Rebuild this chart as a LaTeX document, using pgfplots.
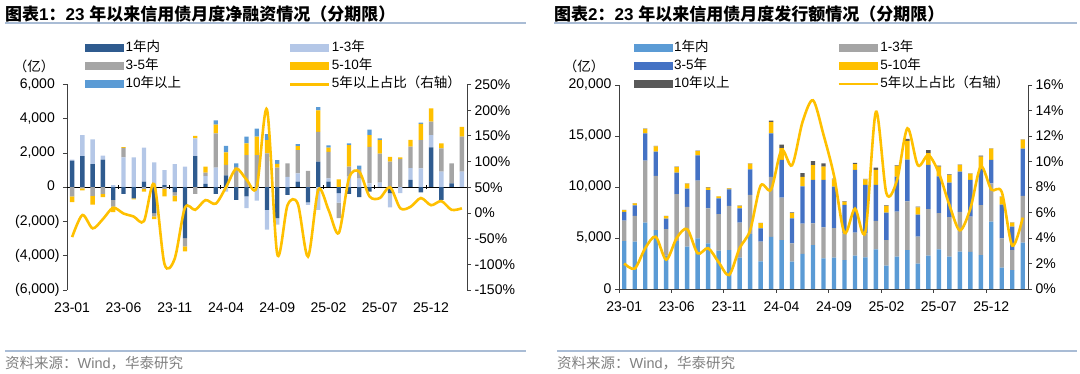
\documentclass[border=0pt]{standalone}
\usepackage{fontspec}
\setmainfont{Liberation Sans}
\newfontfamily\cjk{Noto Sans CJK SC}
\usepackage{pgfplots}
\usepackage{pgfplotstable}
\pgfplotsset{compat=1.18}
\newcommand\C[1]{{\cjk #1}}

\definecolor{lc1}{HTML}{2F5B8F}
\definecolor{lc2}{HTML}{B4C7E7}
\definecolor{lc3}{HTML}{A5A5A5}
\definecolor{gold}{HTML}{FFC000}
\definecolor{lc5}{HTML}{5B9BD5}
\definecolor{rc1}{HTML}{5B9BD5}
\definecolor{rc2}{HTML}{A5A5A5}
\definecolor{rc3}{HTML}{4472C4}
\definecolor{rc5}{HTML}{595959}
\definecolor{axgrey}{HTML}{404040}
\definecolor{rulec}{HTML}{A9BCD5}
\definecolor{srcgrey}{HTML}{808080}

\pgfplotstableread{
m a b c d e r
0 1550 70 -540 -330 0 -47
1 1820 1220 -60 -130 0 -4
2 1350 1450 -500 -520 0 -30
3 1620 230 -390 -190 0 -12
4 -740 130 -390 -330 0 10
5 -390 1740 560 40 0 -1
6 -650 1740 0 -60 0 -7
7 330 1980 -100 -150 0 -16
8 -1510 1450 -190 -160 0 56
9 130 870 -100 -430 0 -99
10 -290 1350 -200 -330 0 -89
11 -2970 1200 -480 -290 0 10
12 1820 1030 -390 150 0 6
13 200 450 200 350 0 25
14 -390 1140 2000 520 250 18
15 700 -250 600 730 390 50
16 -740 0 1190 0 200 86
17 -540 -680 1880 680 390 65
18 0 -780 1880 1070 480 50
19 -1320 -1160 1980 770 350 201
20 -1800 -390 1140 220 230 -80
21 -450 600 800 0 0 15
22 330 480 1360 230 120 18
23 -890 -140 950 0 0 -85
24 1490 -1320 1740 1260 190 45
25 330 190 1550 250 120 6
26 -350 -550 -900 460 0 -39
27 -390 620 580 1260 100 68
28 -580 500 560 0 200 80
29 -250 230 2130 680 330 32
30 0 270 1700 780 100 29
31 -350 -820 1490 290 0 50
32 0 -350 1650 100 0 9
33 430 680 1260 390 0 12
34 -300 1100 1650 950 80 29
35 2330 720 780 780 0 15
36 -740 910 1360 290 0 23
37 230 0 1160 0 0 6
38 0 910 2040 580 0 9
}\leftdata

\pgfplotstableread{
m a b c d e r
0 4700 2000 850 180 30 2.0
1 4640 2520 1040 200 30 1.6
2 6500 6080 2680 430 40 3.2
3 5780 5300 2380 520 40 4.1
4 3270 2610 1020 250 30 2.3
5 4700 4610 2090 550 40 4.0
6 4150 3890 1800 490 30 4.7
7 4970 5650 2480 420 40 2.8
8 4480 3420 1800 250 30 3.2
9 3760 3590 1540 180 20 2.1
10 3820 4320 1630 100 20 1.1
11 3070 3430 1400 250 20 3.2
12 5390 3830 2510 550 40 4.6
13 2700 1940 1310 500 30 8.1
14 5100 5900 4260 1100 150 7.8
15 4800 4150 3700 1150 350 10.9
16 2680 1800 2450 500 70 9.7
17 3450 2950 3650 950 350 13.1
18 4300 2140 4250 1450 400 14.8
19 3000 3030 4660 1300 330 12.1
20 3070 2900 4060 720 60 8.9
21 2840 2620 2780 320 60 4.4
22 3270 2250 6150 580 120 6.3
23 3100 2360 4740 550 50 4.5
24 3890 2780 3530 1470 230 13.9
25 2290 2510 2680 660 60 7.5
26 3170 4410 3430 1050 60 8.5
27 3820 4770 4090 1850 180 12.6
28 2480 2650 2160 720 60 9.7
29 3270 4570 4320 1150 300 10.5
30 3890 3560 3590 950 100 9.1
31 3170 3870 3380 780 30 6.6
32 3660 3900 3940 660 30 4.6
33 3650 3440 3600 620 30 6.3
34 3330 4900 3600 1150 100 9.6
35 6600 3760 2290 1100 40 7.8
36 2090 2880 3300 750 30 7.6
37 1860 1960 2290 400 20 3.4
38 4540 4580 4640 880 30 5.6
}\rightdata

\pgfplotsset{
  barleg/.style={legend image code/.code={\fill[##1] (0pt,-3.75pt) rectangle (39pt,3.75pt);}},
  lineleg/.style={legend image code/.code={\draw[##1] (0pt,0pt) -- (39pt,0pt);}},
  frame/.style={scale only axis, xmin=-0.5, xmax=38.5, anchor=south west,
    scaled y ticks=false, scaled x ticks=false,
    tick label style={font=\fontsize{14}{16}\selectfont},
    xticklabel style={yshift=-5pt},
    axis line style={axgrey, line width=0.8pt},
    tick style={axgrey, line width=0.8pt},
    tick align=outside, major tick length=4pt},
  leftframe/.style={frame, at={(67pt,84pt)}, width=400pt, height=205.5pt},
  rightframe/.style={frame, at={(619pt,85pt)}, width=409pt, height=204pt},
  legstyle/.style={legend columns=2, legend cell align=left,
    legend style={draw=none, fill=none, inner sep=0pt,
      font=\fontsize{13.5}{15}\selectfont,
      nodes={inner sep=1.5pt, text height=10pt, text depth=3pt},
      row sep=2pt,
      /tikz/every even column/.append style={column sep=106pt}}},
}

\begin{document}
\begin{tikzpicture}
\path[use as bounding box] (0pt,0pt) rectangle (1080pt,374pt);

% ---------- titles, rules, sources ----------
\node[anchor=west, inner sep=0pt, font=\fontsize{17}{19}\selectfont\bfseries] at (5pt,360pt)
  {\C{图表}1\C{：}23 \C{年以来信用债月度净融资情况（分期限）}};
\node[anchor=west, inner sep=0pt, font=\fontsize{17}{19}\selectfont\bfseries] at (554pt,360pt)
  {\C{图表}2\C{：}23 \C{年以来信用债月度发行额情况（分期限）}};
\draw[rulec, line width=1.2pt] (5pt,351pt) -- (526pt,351pt);
\draw[rulec, line width=1.2pt] (554pt,351pt) -- (1077pt,351pt);
\draw[rulec, line width=1.2pt] (5pt,23pt) -- (526pt,23pt);
\draw[rulec, line width=1.2pt] (557pt,23pt) -- (1077pt,23pt);
\node[anchor=west, inner sep=0pt, text=srcgrey, font=\fontsize{14.5}{16}\selectfont] at (5pt,11pt)
  {\C{资料来源：}Wind\C{，华泰研究}};
\node[anchor=west, inner sep=0pt, text=srcgrey, font=\fontsize{14.5}{16}\selectfont] at (557pt,11pt)
  {\C{资料来源：}Wind\C{，华泰研究}};
\node[inner sep=0pt, font=\fontsize{13.5}{15}\selectfont] at (34pt,308pt) {\C{（亿）}};
\node[inner sep=0pt, font=\fontsize{13.5}{15}\selectfont] at (584pt,308pt) {\C{（亿）}};

% ---------- LEFT CHART ----------
\begin{axis}[leftframe, ymin=-6000, ymax=6000,
  axis x line*=bottom, axis y line*=left,
  x axis line style={draw=none},
  xtick={0,5,...,35},
  xticklabels={23-01,23-06,23-11,24-04,24-09,25-02,25-07,25-12},
  major x tick style={draw=none},
  ytick={-6000,-4000,...,6000},
  yticklabels={{(6,000)},{(4,000)},{(2,000)},0\phantom{)},{2,000\phantom{)}},{4,000\phantom{)}},{6,000\phantom{)}}},
  ybar stacked, bar width=0.42]
\addplot[fill=lc1, draw=none] table[x=m, y expr={max(\thisrow{a},0)}] {\leftdata};
\addplot[fill=lc2, draw=none] table[x=m, y expr={max(\thisrow{b},0)}] {\leftdata};
\addplot[fill=lc3, draw=none] table[x=m, y expr={max(\thisrow{c},0)}] {\leftdata};
\addplot[fill=gold, draw=none] table[x=m, y expr={max(\thisrow{d},0)}] {\leftdata};
\addplot[fill=lc5, draw=none] table[x=m, y expr={max(\thisrow{e},0)}] {\leftdata};
\end{axis}

\begin{axis}[leftframe, ymin=-6000, ymax=6000,
  axis y line=none, axis x line=middle,
  x axis line style={-, black, line width=0.8pt},
  every inner x axis line/.append style={-},
  xtick={4.5,9.5,...,34.5}, xticklabels={},
  tick style={black, line width=0.8pt},
  ybar stacked, bar width=0.42]
\addplot[fill=lc1, draw=none] table[x=m, y expr={min(\thisrow{a},0)}] {\leftdata};
\addplot[fill=lc2, draw=none] table[x=m, y expr={min(\thisrow{b},0)}] {\leftdata};
\addplot[fill=lc3, draw=none] table[x=m, y expr={min(\thisrow{c},0)}] {\leftdata};
\addplot[fill=gold, draw=none] table[x=m, y expr={min(\thisrow{d},0)}] {\leftdata};
\addplot[fill=lc5, draw=none] table[x=m, y expr={min(\thisrow{e},0)}] {\leftdata};
\end{axis}

\begin{axis}[leftframe, ymin=-150, ymax=250,
  axis x line=none, axis y line*=right,
  ytick={-150,-100,...,250},
  yticklabels={-150\%,-100\%,-50\%,0\%,50\%,100\%,150\%,200\%,250\%},
  legstyle, legend style={at={(0.045,1.2165)}, anchor=north west}]
\addlegendimage{barleg, fill=lc1, draw=none}\addlegendentry{1\C{年内}}
\addlegendimage{barleg, fill=lc2, draw=none}\addlegendentry{1-3\C{年}}
\addlegendimage{barleg, fill=lc3, draw=none}\addlegendentry{3-5\C{年}}
\addlegendimage{barleg, fill=gold, draw=none}\addlegendentry{5-10\C{年}}
\addlegendimage{barleg, fill=lc5, draw=none}\addlegendentry{10\C{年以上}}
\addplot[gold, line width=2.6pt, smooth, lineleg] table[x=m, y=r] {\leftdata};
\addlegendentry{5\C{年以上占比（右轴）}}
\end{axis}

% ---------- RIGHT CHART ----------
\begin{axis}[rightframe, ymin=0, ymax=20000,
  axis x line*=bottom, axis y line*=left,
  xtick={0,5,...,35},
  xticklabels={23-01,23-06,23-11,24-04,24-09,25-02,25-07,25-12},
  major x tick style={draw=none},
  minor xtick={-0.5,4.5,...,34.5}, minor tick length=4pt,
  minor x tick style={axgrey, line width=0.8pt},
  ytick={0,5000,...,20000},
  yticklabels={0,{5,000},{10,000},{15,000},{20,000}},
  ybar stacked, bar width=0.42]
\addplot[fill=rc1, draw=none] table[x=m, y=a] {\rightdata};
\addplot[fill=rc2, draw=none] table[x=m, y=b] {\rightdata};
\addplot[fill=rc3, draw=none] table[x=m, y=c] {\rightdata};
\addplot[fill=gold, draw=none] table[x=m, y=d] {\rightdata};
\addplot[fill=rc5, draw=none] table[x=m, y=e] {\rightdata};
\end{axis}

\begin{axis}[rightframe, ymin=0, ymax=16,
  axis x line=none, axis y line*=right,
  ytick={0,2,...,16},
  yticklabels={0\%,2\%,4\%,6\%,8\%,10\%,12\%,14\%,16\%},
  legstyle, legend style={at={(0.0355,1.2206)}, anchor=north west}]
\addlegendimage{barleg, fill=rc1, draw=none}\addlegendentry{1\C{年内}}
\addlegendimage{barleg, fill=rc2, draw=none}\addlegendentry{1-3\C{年}}
\addlegendimage{barleg, fill=rc3, draw=none}\addlegendentry{3-5\C{年}}
\addlegendimage{barleg, fill=gold, draw=none}\addlegendentry{5-10\C{年}}
\addlegendimage{barleg, fill=rc5, draw=none}\addlegendentry{10\C{年以上}}
\addplot[gold, line width=2.6pt, smooth, lineleg] table[x=m, y=r] {\rightdata};
\addlegendentry{5\C{年以上占比（右轴）}}
\end{axis}
\end{tikzpicture}
\end{document}
